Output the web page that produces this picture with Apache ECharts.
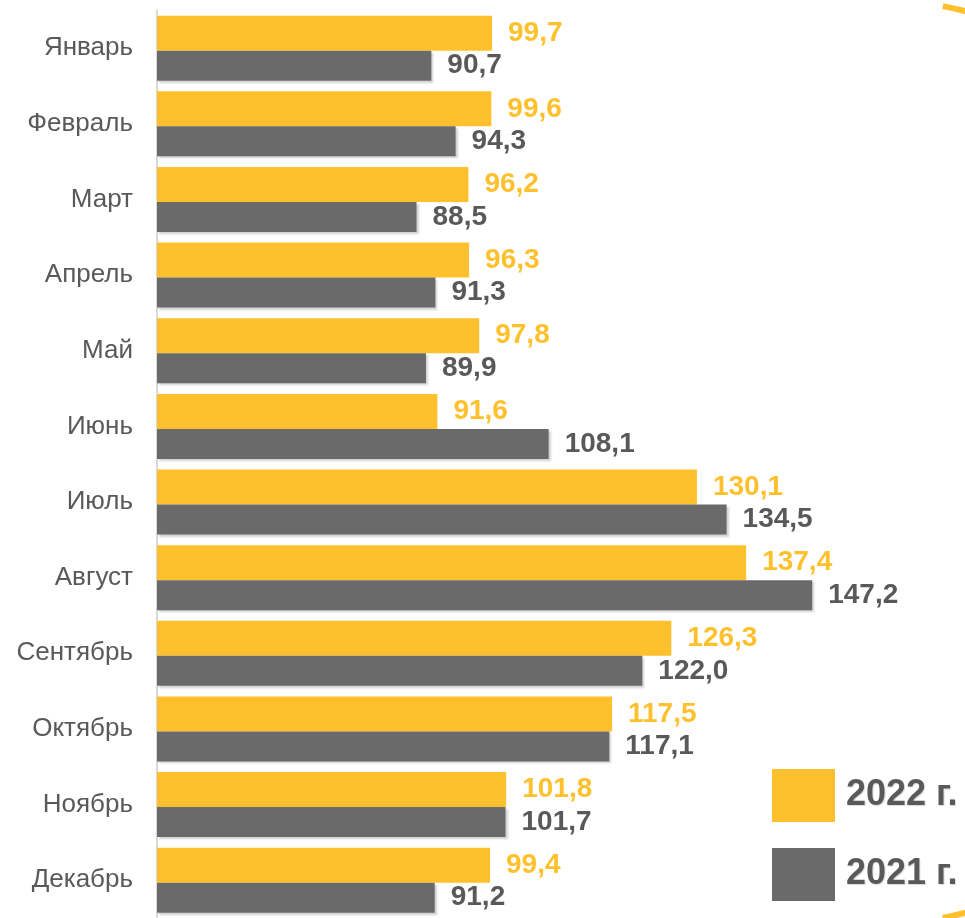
<!DOCTYPE html>
<html>
<head>
<meta charset="utf-8">
<script src="https://cdn.jsdelivr.net/npm/echarts@6/dist/echarts.min.js"></script>
<style>
  html, body { margin: 0; padding: 0; background: #fff; }
  #chart { width: 965px; height: 918px; }
</style>
</head>
<body>
<div id="chart"></div>
<script>
// данные по месяцам
const months = ['Январь', 'Февраль', 'Март', 'Апрель', 'Май', 'Июнь',
  'Июль', 'Август', 'Сентябрь', 'Октябрь', 'Ноябрь', 'Декабрь'];
const values2022 = [99.7, 99.6, 96.2, 96.3, 97.8, 91.6, 130.1, 137.4, 126.3, 117.5, 101.8, 99.4];
const values2021 = [90.7, 94.3, 88.5, 91.3, 89.9, 108.1, 134.5, 147.2, 122.0, 117.1, 101.7, 91.2];
const seriesNames = ['2022 г.', '2021 г.'];

const YELLOW = '#FEC12D';
const GRAY = '#6A6A6A';
const TEXT = '#595959';
const FONT = '"Liberation Sans", Arial, sans-serif';

const fmt = (p) => p.value.toFixed(1).replace('.', ',');

const chart = echarts.init(document.getElementById('chart'), null, { renderer: 'canvas' });

chart.setOption({
  animation: false,
  textStyle: { fontFamily: FONT },
  grid: { left: 157, top: 10.4, width: 741.5, height: 915.3 },
  legend: {
    data: seriesNames,
    orient: 'vertical',
    left: 767,
    top: 764,
    icon: 'rect',
    itemWidth: 63,
    itemHeight: 53,
    itemGap: 26,
    textStyle: {
      fontSize: 36,
      fontWeight: 'bold',
      color: TEXT,
      fontFamily: FONT,
      padding: [0, 0, 0, 6],
      textShadowColor: 'rgba(0,0,0,0.15)',
      textShadowBlur: 1,
      textShadowOffsetX: 1,
      textShadowOffsetY: 1
    }
  },
  xAxis: {
    type: 'value',
    min: 50,
    max: 160,
    show: false
  },
  yAxis: {
    type: 'category',
    data: months,
    inverse: true,
    axisLine: { show: true, lineStyle: { color: '#D9D9D9', width: 2 } },
    axisTick: { show: false },
    axisLabel: { color: TEXT, fontSize: 26, fontFamily: FONT, margin: 24 },
    splitLine: { show: false }
  },
  series: [
    {
      name: seriesNames[0],
      type: 'bar',
      data: values2022,
      barWidth: 35,
      barGap: '0%',
      itemStyle: { color: YELLOW },
      label: {
        show: true,
        position: 'right',
        distance: 16,
        formatter: fmt,
        color: YELLOW,
        fontSize: 28,
        fontWeight: 'bold',
        fontFamily: FONT
      }
    },
    {
      name: seriesNames[1],
      type: 'bar',
      data: values2021,
      barWidth: 30,
      barGap: '0%',
      itemStyle: {
        color: GRAY,
        shadowColor: 'rgba(0,0,0,0.18)',
        shadowBlur: 2,
        shadowOffsetX: 2,
        shadowOffsetY: 2
      },
      label: {
        show: true,
        position: 'right',
        distance: 16,
        formatter: fmt,
        color: TEXT,
        fontSize: 28,
        fontWeight: 'bold',
        fontFamily: FONT
      }
    }
  ],
  graphic: [
    {
      type: 'arc',
      silent: true,
      shape: { cx: 851, cy: 462, r: 465, startAngle: -1.372, endAngle: -1.2, clockwise: true },
      style: { stroke: YELLOW, lineWidth: 6, fill: null }
    },
    {
      type: 'arc',
      silent: true,
      shape: { cx: 851, cy: 462, r: 465, startAngle: 1.2, endAngle: 1.372, clockwise: true },
      style: { stroke: YELLOW, lineWidth: 6, fill: null }
    }
  ]
});

window.addEventListener('resize', () => chart.resize());
</script>
</body>
</html>
